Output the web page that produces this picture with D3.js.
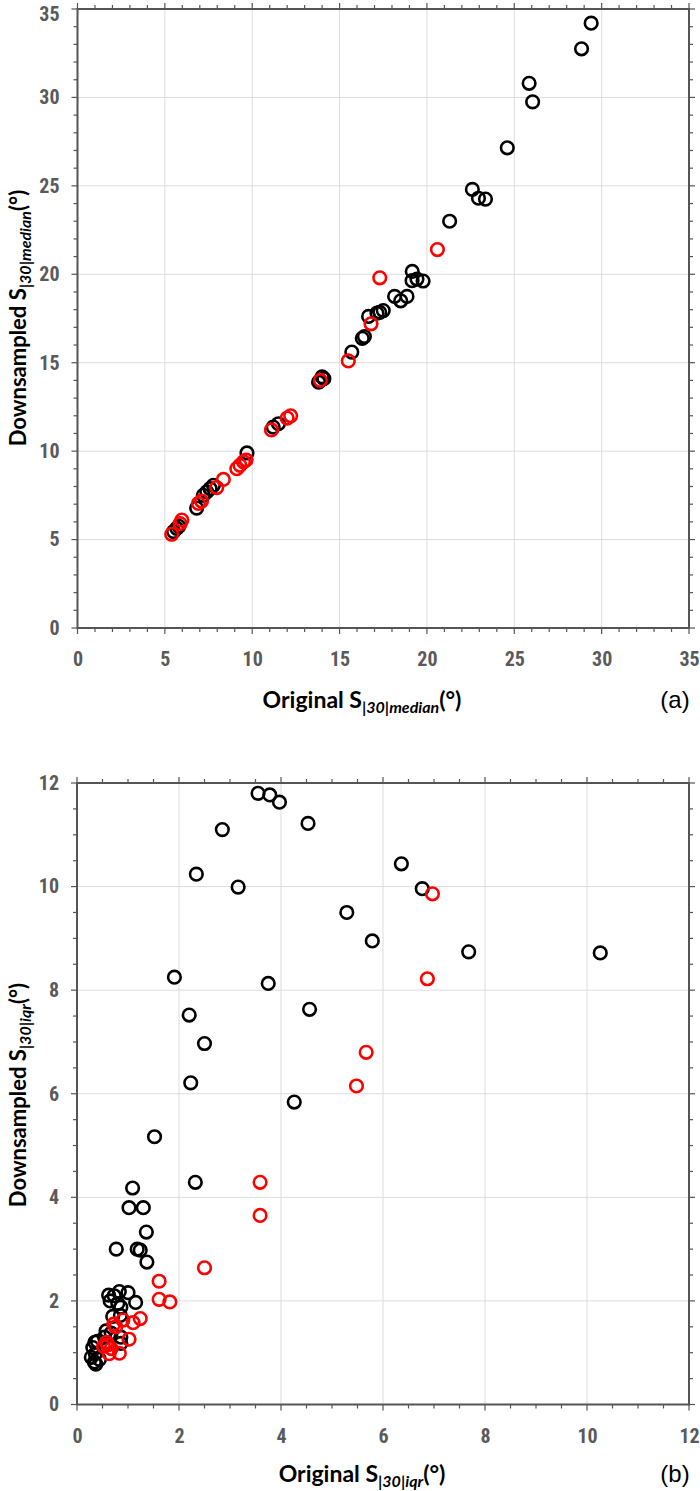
<!DOCTYPE html>
<html><head><meta charset="utf-8">
<script src="https://cdn.jsdelivr.net/npm/d3@7"></script>
<style>
body{margin:0;background:#fff;}
svg{display:block;}
.tick text{font-family:"Liberation Sans Narrow","Roboto Condensed","Liberation Sans",sans-serif;font-weight:bold;fill:#5a5a5a;}
</style></head><body>
<svg id="c" width="700" height="1491"></svg>
<script>
// ---- Panel (a) data: median ----
const medBlackX = [29.4,28.85,25.85,26.05,24.6,22.6,22.95,23.35,21.3,19.16,19.15,19.43,19.78,18.15,18.5,18.86,16.66,17.14,17.5,17.3,16.3,16.42,15.7,13.8,14.0,14.1,13.85,11.2,11.5,9.7,7.78,7.59,7.4,7.2,6.82,5.5,5.68,5.8];
const medBlackY = [34.2,32.75,30.8,29.75,27.15,24.8,24.3,24.25,23.0,20.16,19.64,19.73,19.62,18.75,18.5,18.75,17.62,17.8,17.95,17.85,16.38,16.48,15.6,13.9,14.2,14.1,13.95,11.36,11.55,9.9,8.07,7.88,7.7,7.5,6.78,5.45,5.63,5.75];
const medRedX = [20.6,17.3,16.8,15.5,13.9,11.1,12.0,12.2,9.12,9.3,9.5,9.65,8.35,7.97,7.1,6.92,5.39,5.87,5.97];
const medRedY = [21.4,19.8,17.2,15.1,14.0,11.2,11.87,12.0,9.01,9.2,9.4,9.5,8.4,7.94,7.18,7.04,5.3,5.9,6.1];
const medMajorTicks = [0,5,10,15,20,25,30,35];

// ---- Panel (b) data: iqr ----
const iqrBlackX = [3.55,3.78,3.97,2.85,4.53,6.36,2.34,3.16,6.77,5.29,5.79,7.68,10.26,1.91,3.75,4.56,2.2,2.5,2.23,4.26,1.52,2.32,1.09,1.02,1.3,1.36,0.77,1.18,1.24,1.37,0.62,0.73,0.83,1.0,1.15,0.65,0.8,0.86,0.7,0.85,0.57,0.67,0.54,0.86,0.4,0.35,0.31,0.28,0.36,0.44,0.37,0.34,0.86];
const iqrBlackY = [11.8,11.77,11.63,11.1,11.22,10.44,10.24,9.99,9.96,9.5,8.95,8.74,8.72,8.25,8.13,7.63,7.52,6.97,6.21,5.84,5.17,4.29,4.18,3.8,3.8,3.33,3.0,3.0,2.98,2.75,2.11,2.1,2.18,2.16,1.97,2.0,1.95,1.88,1.7,1.72,1.42,1.38,1.3,1.3,1.22,1.2,1.1,0.91,0.98,0.87,0.78,0.82,1.18];
const iqrRedX = [6.97,6.87,5.67,5.48,3.59,3.59,2.5,1.61,1.61,1.82,0.72,0.76,0.9,1.1,1.24,1.02,0.52,0.6,0.67,0.63,0.83,0.58];
const iqrRedY = [9.86,8.22,6.8,6.15,4.29,3.65,2.64,2.38,2.03,1.98,1.55,1.5,1.63,1.58,1.66,1.26,1.12,1.15,1.08,0.98,0.99,1.2];
const iqrMajorTicks = [0,2,4,6,8,10,12];

const svg = d3.select("#c");
const AX = "#555";

function panel(cfg){
  const g = svg.append("g");
  const x = d3.scaleLinear().domain(cfg.domain).range([cfg.left, cfg.right]);
  const y = d3.scaleLinear().domain(cfg.domain).range([cfg.bottom, cfg.top]);
  const minor = d3.range(cfg.domain[0], cfg.domain[1] + 1e-9, cfg.minorStep);
  // grid
  g.append("g").selectAll("line").data(cfg.major.slice(1,-1)).join("line")
    .attr("x1", d=>x(d)).attr("x2", d=>x(d)).attr("y1", cfg.top).attr("y2", cfg.bottom)
    .attr("stroke", "#dcdcdc").attr("stroke-width", 1);
  g.append("g").selectAll("line").data(cfg.major.slice(1,-1)).join("line")
    .attr("y1", d=>y(d)).attr("y2", d=>y(d)).attr("x1", cfg.left).attr("x2", cfg.right)
    .attr("stroke", "#dcdcdc").attr("stroke-width", 1);
  // ticks on all 4 sides
  const mt = g.append("g").attr("stroke", AX).attr("stroke-width", 1.2);
  minor.forEach(v=>{
    const isMaj = cfg.major.some(m=>Math.abs(m-v)<1e-9);
    const L = isMaj ? 6 : 4;
    mt.append("line").attr("x1", x(v)).attr("x2", x(v)).attr("y1", cfg.bottom).attr("y2", cfg.bottom+L);
    mt.append("line").attr("x1", x(v)).attr("x2", x(v)).attr("y1", cfg.top).attr("y2", cfg.top-L);
    mt.append("line").attr("y1", y(v)).attr("y2", y(v)).attr("x1", cfg.left).attr("x2", cfg.left-L);
    mt.append("line").attr("y1", y(v)).attr("y2", y(v)).attr("x1", cfg.right).attr("x2", cfg.right+L);
  });
  // tick labels via d3 axis
  const xa = g.append("g").attr("transform", `translate(0,${cfg.bottom})`)
    .call(d3.axisBottom(x).tickValues(cfg.major).tickSize(0).tickPadding(24).tickFormat(d3.format("d")));
  const ya = g.append("g").attr("transform", `translate(${cfg.left},0)`)
    .call(d3.axisLeft(y).tickValues(cfg.major).tickSize(0).tickPadding(18).tickFormat(d3.format("d")));
  [xa, ya].forEach(a=>{ a.select(".domain").remove(); a.selectAll("text").attr("font-size", 20); });
  if (cfg.top < 12) {
    ya.selectAll(".tick").filter(d=>d===cfg.domain[1]).select("text").attr("dy", "0.55em");
  }
  // box
  g.append("rect").attr("x", cfg.left).attr("y", cfg.top)
    .attr("width", cfg.right-cfg.left).attr("height", cfg.bottom-cfg.top)
    .attr("fill", "none").attr("stroke", AX).attr("stroke-width", 2);
  // points
  const pts = (xs, ys, col) => g.append("g").selectAll("circle").data(xs.map((v,i)=>[v, ys[i]])).join("circle")
    .attr("cx", d=>x(d[0])).attr("cy", d=>y(d[1])).attr("r", 6.3)
    .attr("fill", "none").attr("stroke", col).attr("stroke-width", 2.6);
  pts(cfg.bx, cfg.by, "#000");
  pts(cfg.rx, cfg.ry, "#ff0000");
  // x label
  const xl = g.append("text").attr("x", cfg.xlabX).attr("y", cfg.bottom + cfg.xlabDy)
    .attr("text-anchor", "middle").attr("font-family", "Lato, 'Open Sans', sans-serif")
    .attr("font-weight", "bold").attr("font-size", 23).attr("fill", "#000");
  xl.append("tspan").text("Original S");
  xl.append("tspan").attr("dy", 5).attr("font-size", 16).attr("font-style", "italic").text(cfg.sub);
  xl.append("tspan").attr("dy", -5).text("(°)");
  // y label
  const yl = g.append("text").attr("transform", `translate(26,${cfg.ylabY}) rotate(-90)`)
    .attr("text-anchor", "middle").attr("font-family", "Lato, 'Open Sans', sans-serif")
    .attr("font-weight", "bold").attr("font-size", 22).attr("fill", "#000");
  yl.append("tspan").text("Downsampled S");
  yl.append("tspan").attr("dy", 5).attr("font-size", 16).attr("font-style", "italic").text(cfg.sub);
  yl.append("tspan").attr("dy", -5).text("(°)");
  // panel letter
  g.append("text").attr("x", 675).attr("y", cfg.bottom + cfg.xlabDy).attr("text-anchor", "middle")
    .attr("font-family", "'Liberation Sans', Arial, sans-serif").attr("font-size", 24).attr("fill", "#000")
    .text(cfg.letter);
}

panel({domain:[0,35], major:medMajorTicks, minorStep:1, left:77.5, right:689, top:9, bottom:628,
  bx:medBlackX, by:medBlackY, rx:medRedX, ry:medRedY, sub:"|30|median", letter:"(a)", xlabX:362, xlabDy:80, ylabY:318});
panel({domain:[0,12], major:iqrMajorTicks, minorStep:0.5, left:77, right:689, top:783, bottom:1404.5,
  bx:iqrBlackX, by:iqrBlackY, rx:iqrRedX, ry:iqrRedY, sub:"|30|iqr", letter:"(b)", xlabX:362, xlabDy:77, ylabY:1095});
</script></body></html>
